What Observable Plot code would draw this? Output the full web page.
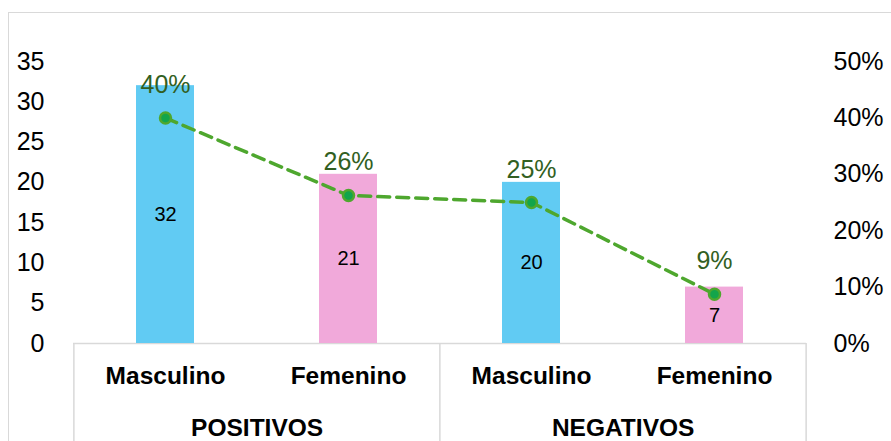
<!DOCTYPE html>
<html>
<head>
<meta charset="utf-8">
<script src="https://cdn.jsdelivr.net/npm/d3@7"></script>
<script src="https://cdn.jsdelivr.net/npm/@observablehq/plot@0.6"></script>
<style>
  html, body { margin: 0; padding: 0; background: #fff; overflow: hidden; }
  #wrap { position: relative; width: 891px; height: 441px; overflow: hidden; }
  #frame { position: absolute; left: 8px; top: 12px; width: 1000px; height: 1000px;
           border-left: 1.5px solid #d9d9d9; border-top: 1.5px solid #d9d9d9; }
  #chart { position: absolute; left: 0; top: 0; }
</style>
</head>
<body>
<div id="wrap"><div id="frame"></div><div id="chart"></div></div>
<script>
const groups = ["POSITIVOS", "POSITIVOS", "NEGATIVOS", "NEGATIVOS"];
const categories = ["Masculino", "Femenino", "Masculino", "Femenino"];
const counts = [32, 21, 20, 7];
const shares = [0.40, 0.2625, 0.25, 0.0875];
const leftTicks = [0, 5, 10, 15, 20, 25, 30, 35];
const rightTicks = [0, 0.1, 0.2, 0.3, 0.4, 0.5];
const groupNames = ["POSITIVOS", "NEGATIVOS"];

const colorByCategory = { Masculino: "#61CBF3", Femenino: "#F1A9DA" };

const W = 891, H = 441, mL = 73, mR = 85, mT = 61, mB = 98;
const step = (W - mL - mR) / categories.length;
const yMax = 35, pMax = 0.5;
const pctToY = p => p * yMax / pMax;

const rows = categories.map((c, i) => ({
  key: groups[i] + "|" + c, group: groups[i], cat: c, count: counts[i], share: shares[i]
}));
const keys = rows.map(d => d.key);
const groupRows = groupNames.map(g => ({ group: g, first: rows.find(r => r.group === g).key }));
const lefts = groupNames.map(g => rows.find(r => r.group === g).key);
const lastKey = keys[keys.length - 1];

const gray = "#d9d9d9";
const plot = Plot.plot({
  width: W, height: H,
  marginLeft: mL, marginRight: mR, marginTop: mT, marginBottom: mB,
  style: { fontFamily: "'Liberation Sans', Arial, sans-serif", background: "transparent", color: "#000", overflow: "visible" },
  x: { type: "band", domain: keys, paddingInner: 0.683, paddingOuter: 0.3415 },
  y: { domain: [0, yMax] },
  marks: [
    Plot.ruleY([0], { stroke: gray, strokeWidth: 1.5 }),
    Plot.ruleX(lefts, { x: d => d, y1: 0, y2: -13, dx: -step / 2, stroke: gray, strokeWidth: 1.5 }),
    Plot.ruleX([lastKey], { x: d => d, y1: 0, y2: -13, dx: step / 2, stroke: gray, strokeWidth: 1.5 }),
    Plot.barY(rows, { x: "key", y: "count", fill: d => colorByCategory[d.cat] }),
    Plot.text(rows, { x: "key", y: d => d.count / 2, text: d => String(d.count), fontSize: 20, fill: "#000" }),
    Plot.line(rows, { x: "key", y: d => pctToY(d.share), stroke: "#4EA72E", strokeWidth: 3.5, strokeDasharray: "12,7", strokeLinecap: "round" }),
    Plot.dot(rows, { x: "key", y: d => pctToY(d.share), r: 5.5, fill: "#12A54B", stroke: "#4EA72E", strokeWidth: 2.5 }),
    Plot.text(rows, { x: "key", y: d => pctToY(d.share), text: d => d3.format(".0%")(d.share), dy: -33, fontSize: 25, fill: "#325F22" }),
    Plot.axisY({ anchor: "left", ticks: leftTicks, tickSize: 0, tickPadding: 29, fontSize: 25, label: null }),
    Plot.axisY({ anchor: "right", ticks: rightTicks.map(pctToY), tickFormat: v => Math.round(v / yMax * pMax * 100) + "%", tickSize: 0, tickPadding: 27, fontSize: 25, label: null }),
    Plot.axisX({ anchor: "bottom", tickSize: 0, tickPadding: 23, tickFormat: k => k.split("|")[1], fontSize: 24.5, fontWeight: "bold", label: null }),
    Plot.text(groupRows, { x: "first", frameAnchor: "bottom", dx: step / 2, dy: 92, text: "group", fontSize: 24.5, fontWeight: "bold", fill: "#000" })
  ]
});
document.getElementById("chart").appendChild(plot);
</script>
</body>
</html>
